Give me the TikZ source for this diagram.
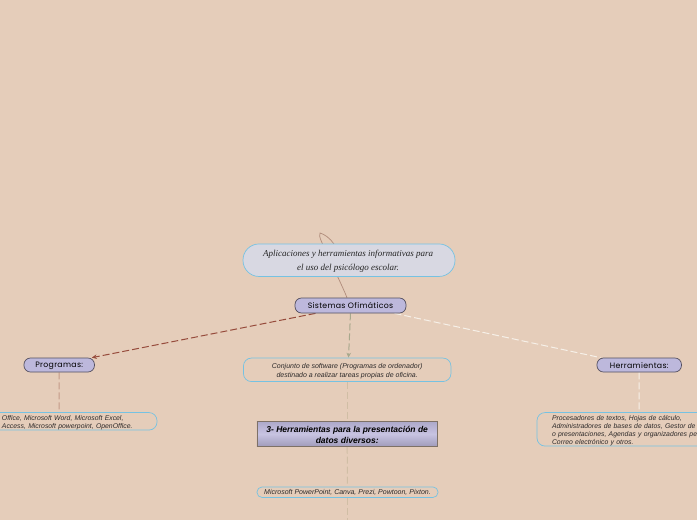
\documentclass[tikz,border=0pt]{standalone}
\usepackage{fontspec}
\setmainfont{Liberation Sans}
\newfontfamily\serifit{Liberation Serif}[ItalicFont=* Italic]
\newfontfamily\headfont{Poppins}[LetterSpace=4]
\usetikzlibrary{calc,arrows.meta}
\definecolor{bgc}{RGB}{229,205,186}
\definecolor{pill}{RGB}{189,184,220}
\definecolor{pale}{RGB}{216,216,226}
\definecolor{cyanb}{RGB}{118,194,226}
\definecolor{darkb}{RGB}{84,80,96}
\definecolor{redl}{RGB}{150,75,60}
\definecolor{rosel}{RGB}{196,154,136}
\definecolor{olivel}{RGB}{168,168,140}
\definecolor{tanl}{RGB}{208,190,165}
\definecolor{creaml}{RGB}{246,240,232}
\definecolor{txtc}{RGB}{45,42,42}
\pgfdeclarelayer{bglayer}
\pgfdeclarelayer{links}
\pgfsetlayers{bglayer,links,main}
\tikzset{
 x=1pt,y=-1pt,
 headbox/.style={draw=darkb,line width=.7pt,fill=pill,rounded corners=6.5pt,inner sep=0pt,
   font=\headfont\fontsize{7.8}{9}\selectfont,text=black},
 descbox/.style={draw=cyanb,line width=.7pt,rounded corners=8pt,inner sep=0pt,
   font=\fontsize{7}{9.5}\selectfont\itshape,text=txtc,align=center},
 sidebox/.style={descbox,font=\fontsize{6.85}{7.9}\selectfont\itshape,align=left},
 link/.style={line width=1pt,dash pattern=on 7pt off 3pt},
 tip/.style={-{Stealth[length=5pt,width=4.5pt]}},
}
\begin{document}
\begin{tikzpicture}
\useasboundingbox (0,0) rectangle (697,520);
\clip (0,0) rectangle (697,520);
\begin{pgfonlayer}{bglayer}
\fill[bgc] (0,0) rectangle (697,520);
\end{pgfonlayer}

\node[draw=cyanb,line width=.7pt,fill=pale,rounded corners=16pt,inner sep=0pt,minimum width=212pt,minimum height=32.5pt,
  align=center,font=\serifit\fontsize{9}{13.5}\selectfont\itshape,text=black!85] (title) at (349,260.2)
  {\rule{0pt}{9pt}\hspace*{-2pt}Aplicaciones y herramientas informativas para\\\hspace*{-2pt}el uso del psicólogo escolar.};
\node[headbox,minimum width=111pt,minimum height=15pt] (sis) at (350.5,305.5) {\rule{0pt}{7pt}Sistemas Ofimáticos};
\node[descbox,minimum width=207.5pt,minimum height=23.5pt] (conj) at (347.2,369.8)
  {\rule{0pt}{7.5pt}Conjunto de software (Programas de ordenador)\\destinado a realizar tareas propias de oficina.};
\node[headbox,minimum width=70.5pt,minimum height=14pt] (prog) at (59.2,365) {\rule{0pt}{7pt}Programas:};
\node[headbox,minimum width=84.5pt,minimum height=14pt] (herr) at (639.2,365) {\rule{0pt}{7pt}Herramientas:};
\node[sidebox,text width=187pt,minimum height=17.5pt] (ofi) at (63.5,421.3)
  {\rule{0pt}{8pt}\hspace*{32pt}Office, Microsoft Word, Microsoft Excel,\\\hspace*{32pt}Access, Microsoft powerpoint, OpenOffice.};
\node[sidebox,text width=223pt,minimum height=33.5pt] (proc) at (648.5,429.3)
  {\rule{0pt}{7.5pt}\hspace*{15pt}Procesadores de textos, Hojas de cálculo,\\
   \hspace*{15pt}Administradores de bases de datos, Gestor de\\
   \hspace*{15pt}o presentaciones, Agendas y organizadores pe\\
   \hspace*{15pt}Correo electrónico y otros.};
\node[draw=black!45!bgc,line width=.9pt,top color=pill!92!black,bottom color=pill!85!black,middle color=pill!85!white,
  inner sep=0pt,minimum width=180.5pt,minimum height=24.5pt,align=center,
  font=\fontsize{8.5}{11}\selectfont\bfseries\itshape,text=black] (pres) at (347.2,434)
  {\rule{0pt}{8.5pt}3- Herramientas para la presentación de\\datos diversos:};
\node[draw=cyanb,line width=.7pt,rounded corners=5pt,inner sep=0pt,minimum width=181pt,minimum height=10.5pt,
  font=\fontsize{7}{8}\selectfont\itshape,text=txtc] (ms) at (347.5,492.2)
  {\rule{0pt}{6pt}Microsoft PowerPoint, Canva, Prezi, Powtoon, Pixton.};
\coordinate (endl) at (347.5,520);

\begin{pgfonlayer}{links}
\draw[rosel!90!black,line width=.7pt] ($(sis.north)+(-3.5,0)$) .. controls (342,285) and (334,270) .. (328,255)
   .. controls (323,245) and (318,236) .. (320,233) .. controls (324,234) and (330,238) .. (334,244);
\draw[link,tip,redl] ($(sis.south)+(-35,0)$) -- ($(prog.north east)+(-3,0)$);
\draw[link,tip,olivel] (sis.south) -- ($(conj.north)+(1.3,0)$);
\draw[link,creaml] ($(sis.south)+(44,0)$) -- ($(herr.north west)+(4,0)$);
\draw[link,rosel] (prog.south) -- ($(ofi.north)+(-4.5,0)$);
\draw[link,creaml] (herr.south) -- ($(proc.north)+(-9.5,0)$);
\draw[link,tanl] (conj.south) -- (pres.north);
\draw[link,tanl] (pres.south) -- (ms.north);
\draw[link,tanl] (ms.south) -- (endl);
\end{pgfonlayer}
\end{tikzpicture}
\end{document}
